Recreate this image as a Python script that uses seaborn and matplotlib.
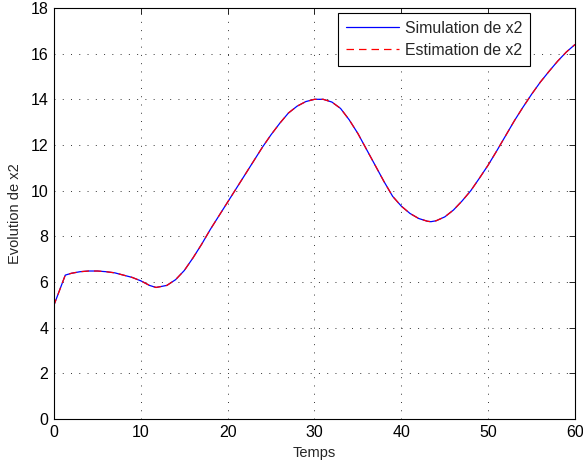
import matplotlib
matplotlib.use("Agg")
import matplotlib.pyplot as plt
import seaborn as sns

# temps (s) et valeurs
temps = [0, 0.01, 1.3, 2, 3, 4, 5, 6, 7, 8, 9, 10, 11, 11.75, 13, 14, 15, 16, 17,
         18, 19, 20, 21, 22, 23, 24, 25, 26, 27, 28, 29, 30, 31, 32, 33, 34, 35,
         36, 37, 38, 39, 40, 41, 42, 43, 43.4, 44, 45, 46, 47, 48, 49, 50, 51, 52,
         53, 54, 55, 56, 57, 58, 59, 60]
x2_sim = [0, 5.0, 6.3, 6.38, 6.45, 6.48, 6.48, 6.45, 6.4, 6.3, 6.2, 6.05, 5.85, 5.76,
          5.85, 6.1, 6.5, 7.05, 7.65, 8.3, 8.9, 9.5, 10.1, 10.7, 11.3, 11.9, 12.45,
          12.95, 13.4, 13.7, 13.9, 14.0, 14.0, 13.88, 13.6, 13.1, 12.5, 11.8, 11.1,
          10.4, 9.75, 9.32, 9.0, 8.78, 8.66, 8.64, 8.68, 8.85, 9.15, 9.55, 10.0, 10.55,
          11.12, 11.75, 12.4, 13.05, 13.65, 14.22, 14.75, 15.22, 15.67, 16.07, 16.4]
x2_est = list(x2_sim)

sns.set_style("white")
plt.rcParams['font.family'] = ['Liberation Sans', 'DejaVu Sans']

fig = plt.figure(figsize=(5.83, 4.66), dpi=100)
ax = fig.add_axes([0.0926, 0.1009, 0.8937, 0.882])

sns.lineplot(x=temps, y=x2_sim, ax=ax, color="blue", linewidth=0.9,
             label="Simulation de x2", estimator=None, sort=False)
sns.lineplot(x=temps, y=x2_est, ax=ax, color="red", linewidth=0.9, linestyle="--",
             label="Estimation de x2", estimator=None, sort=False)
ax.lines[1].set_dashes((6, 4))

ax.set_xlim(0, 60)
ax.set_ylim(0, 18)
ax.set_xticks(range(0, 61, 10))
ax.set_yticks(range(0, 19, 2))
ax.set_xlabel("Temps", fontsize=10.5, labelpad=5)
ax.set_ylabel("Evolution de x2", fontsize=10.5, labelpad=6)
ax.tick_params(direction="in", top=True, right=True, labelsize=11.5,
               length=4, width=0.6, pad=4, colors="black")
ax.grid(True, linestyle=(0, (1, 7.5)), color="#333333", linewidth=0.7)
for s in ax.spines.values():
    s.set_color("black")
    s.set_linewidth(0.8)

leg = ax.legend(loc="upper right", bbox_to_anchor=(0.914, 0.988), borderaxespad=0,
                fancybox=False, framealpha=1, edgecolor="black", fontsize=11.4,
                handlelength=3.3, borderpad=0.5, labelspacing=0.45, handletextpad=0.4)
leg.get_frame().set_linewidth(0.8)

fig.savefig("out.png", dpi=100)
